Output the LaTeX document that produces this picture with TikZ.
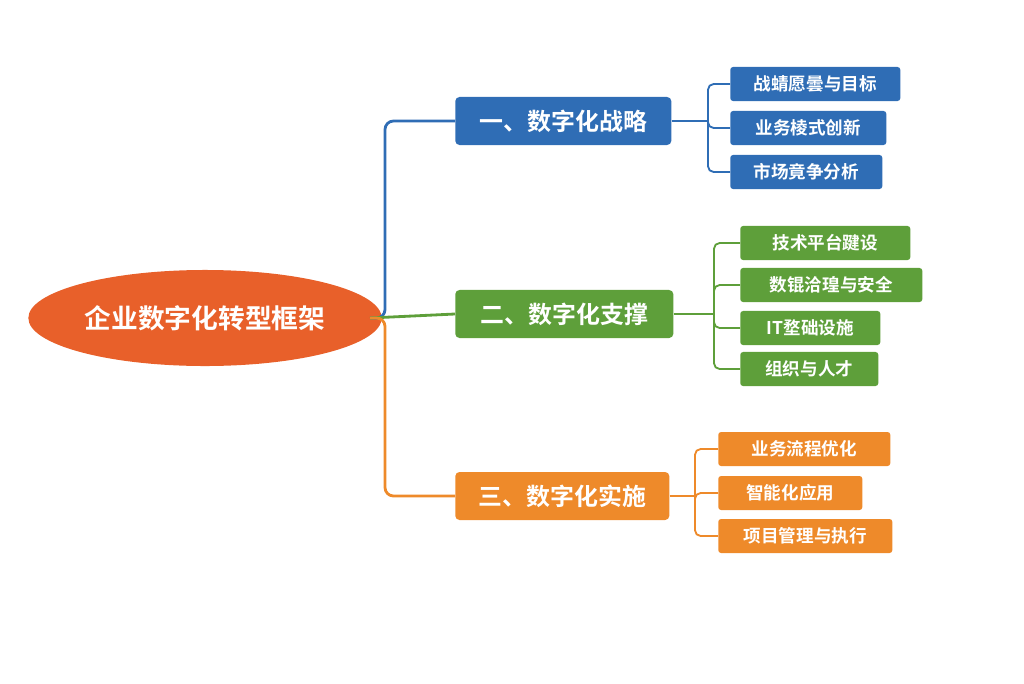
\documentclass[tikz,border=0pt]{standalone}
\usepackage{fontspec}
\usetikzlibrary{shapes.geometric}
\setmainfont{Noto Sans CJK SC}[BoldFont={Noto Sans CJK SC Bold}]
\definecolor{rootc}{HTML}{E8602A}
\definecolor{bluec}{HTML}{2F6DB5}
\definecolor{greenc}{HTML}{5E9F3A}
\definecolor{orangec}{HTML}{EE8A2A}
\tikzset{
  branch/.style={rounded corners=3pt,text=white,font=\bfseries\fontsize{17}{17}\selectfont,minimum height=1.2cm,inner xsep=8pt,anchor=west},
  leaf/.style={rounded corners=2pt,text=white,font=\bfseries\fontsize{12.5}{12.5}\selectfont,minimum height=0.85cm,inner xsep=7pt,anchor=west},
  link/.style={line width=2pt,rounded corners=6pt},
  twig/.style={line width=1.3pt,rounded corners=4pt}
}
\begin{document}
\begin{tikzpicture}[x=0.025cm,y=-0.025cm]
  \useasboundingbox (0,0) rectangle (1024,683);
  % root
  \node[ellipse,fill=rootc,text=white,minimum width=8.1cm,minimum height=2.4cm,font=\bfseries\fontsize{19}{19}\selectfont] (root) at (205,318) {企业数字化转型框架};
  % branches
  \node[branch,fill=bluec,minimum width=5.4cm] (b1) at (455,121) {一、数字化战略};
  \node[branch,fill=greenc,minimum width=5.45cm] (b2) at (455,314) {二、数字化支撑};
  \node[branch,fill=orangec,minimum width=5.35cm] (b3) at (455,496) {三、数字化实施};
  \coordinate (r) at (370,318);
  \draw[link,bluec] (r) -| (385,121) -- (b1.west);
  \draw[link,greenc] (r) -- (b2.west);
  \draw[link,orangec] (r) -| (385,496) -- (b3.west);
  % leaves of branch one
  \node[leaf,fill=bluec,minimum width=4.25cm] (l11) at (730,84) {战蜻愿曇与目标};
  \node[leaf,fill=bluec,minimum width=3.9cm] (l12) at (730,128) {业务棱式创新};
  \node[leaf,fill=bluec,minimum width=3.8cm] (l13) at (730,172) {市场竟争分析};
  \coordinate (k1) at (708,121);
  \draw[twig,bluec] (b1.east) -- (k1);
  \foreach \l in {l11,l12,l13} \draw[twig,bluec] (k1) |- (\l.west);
  % leaves of branch two
  \node[leaf,fill=greenc,minimum width=4.25cm] (l21) at (740,243) {技术平台踺设};
  \node[leaf,fill=greenc,minimum width=4.55cm] (l22) at (740,285) {数锟洽瑝与安全};
  \node[leaf,fill=greenc,minimum width=3.5cm] (l23) at (740,328) {IT堥础设施};
  \node[leaf,fill=greenc,minimum width=3.45cm] (l24) at (740,369) {组织与人才};
  \coordinate (k2) at (714,314);
  \draw[twig,greenc] (b2.east) -- (k2);
  \foreach \l in {l21,l22,l23,l24} \draw[twig,greenc] (k2) |- (\l.west);
  % leaves of branch three
  \node[leaf,fill=orangec,minimum width=4.3cm] (l31) at (718,449) {业务流程优化};
  \node[leaf,fill=orangec,minimum width=3.6cm] (l32) at (718,493) {智能化应用};
  \node[leaf,fill=orangec,minimum width=4.35cm] (l33) at (718,536) {项目管理与执行};
  \coordinate (k3) at (695,496);
  \draw[twig,orangec] (b3.east) -- (k3);
  \foreach \l in {l31,l32,l33} \draw[twig,orangec] (k3) |- (\l.west);
\end{tikzpicture}
\end{document}
